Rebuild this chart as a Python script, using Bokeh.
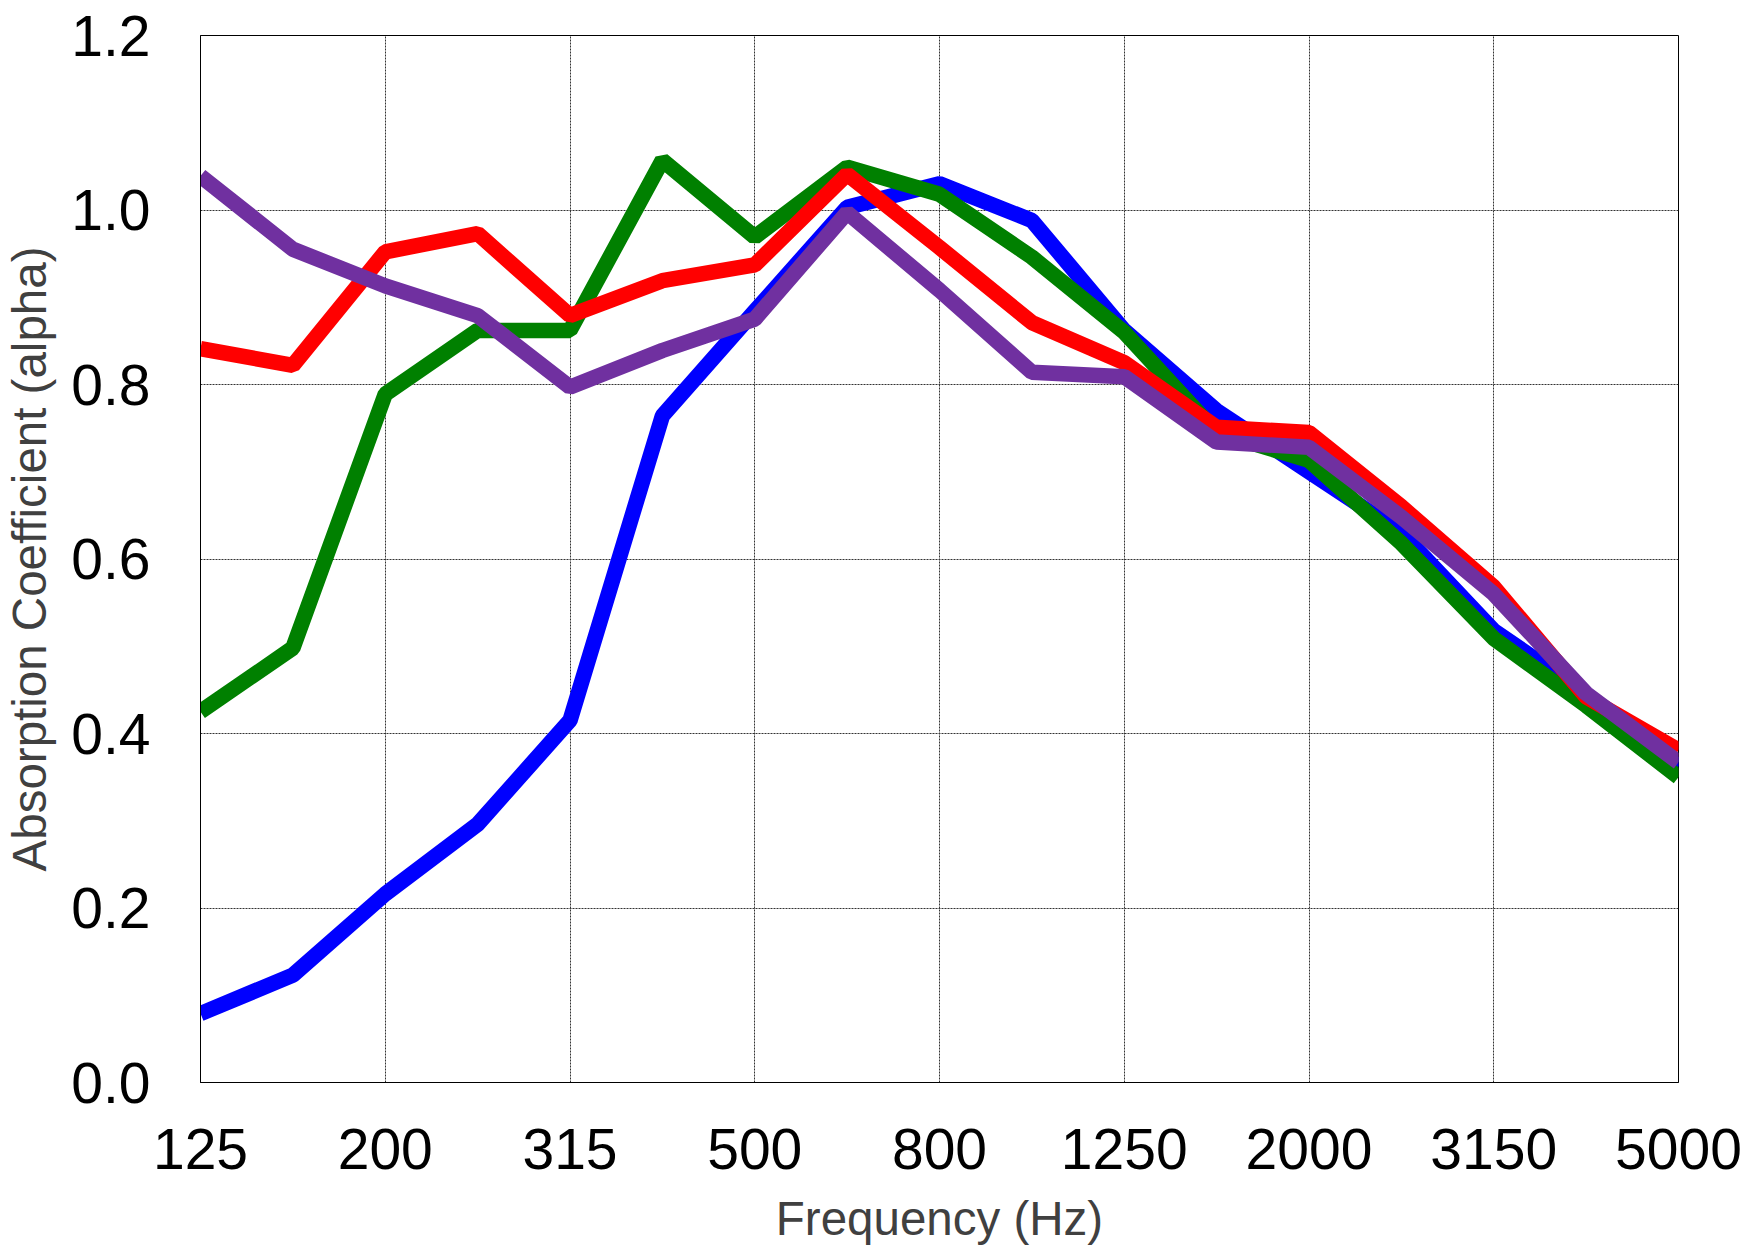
from bokeh.plotting import figure
from bokeh.models import FixedTicker, Range1d, PrintfTickFormatter
from bokeh.embed import file_html
from bokeh.resources import INLINE

freqs = ["125", "160", "200", "250", "315", "400", "500", "630", "800",
         "1000", "1250", "1600", "2000", "2500", "3150", "4000", "5000"]
tick_labels = ["125", "200", "315", "500", "800", "1250", "2000", "3150", "5000"]

blue = [0.079, 0.123, 0.216, 0.296, 0.415, 0.764, 0.884, 1.003, 1.030, 0.988,
        0.862, 0.770, 0.700, 0.630, 0.518, 0.445, 0.362]
green = [0.425, 0.498, 0.789, 0.862, 0.862, 1.057, 0.969, 1.049, 1.018, 0.946,
         0.860, 0.745, 0.713, 0.618, 0.509, 0.432, 0.350]
red = [0.841, 0.822, 0.952, 0.973, 0.879, 0.919, 0.937, 1.041, 0.957, 0.871,
       0.825, 0.751, 0.745, 0.660, 0.568, 0.442, 0.381]
purple = [1.039, 0.955, 0.913, 0.879, 0.797, 0.839, 0.875, 0.997, 0.908, 0.814,
          0.809, 0.734, 0.728, 0.648, 0.560, 0.446, 0.367]

series = [(blue, "#0000FF"), (green, "#008000"), (red, "#FF0000"), (purple, "#7030A0")]

x = list(range(len(freqs)))

p = figure(output_backend="svg", toolbar_location=None,
           frame_width=1478, frame_height=1047,
           min_border_left=190, min_border_top=35, min_border_right=66, min_border_bottom=150,
           x_range=Range1d(0, len(freqs) - 1), y_range=Range1d(0, 1.2))

for vals, col in series:
    p.line(x, vals, line_color=col, line_width=15.5)

font = "Liberation Sans"
tick_pos = [freqs.index(t) for t in tick_labels]
p.xaxis.ticker = FixedTicker(ticks=tick_pos)
p.xaxis.major_label_overrides = {i: t for i, t in zip(tick_pos, tick_labels)}
p.yaxis.ticker = FixedTicker(ticks=[0, 0.2, 0.4, 0.6, 0.8, 1.0, 1.2])
p.yaxis.formatter = PrintfTickFormatter(format="%.1f")

for ax in (p.xaxis, p.yaxis):
    ax.major_tick_in = 0
    ax.major_tick_out = 0
    ax.minor_tick_in = 0
    ax.minor_tick_out = 0
    ax.axis_line_color = "black"
    ax.major_label_text_font = font
    ax.major_label_text_font_size = "57px"
    ax.major_label_text_color = "black"
    ax.axis_label_text_font = font
    ax.axis_label_text_font_size = "47.5px"
    ax.axis_label_text_font_style = "normal"
    ax.axis_label_text_color = "#404040"

p.xaxis.axis_label = "Frequency (Hz)"
p.yaxis.axis_label = "Absorption Coefficient (alpha)"
p.xaxis.major_label_standoff = 46
p.yaxis.major_label_standoff = 50
p.xaxis.axis_label_standoff = 20
p.yaxis.axis_label_standoff = 12

for g in (p.xgrid, p.ygrid):
    g.grid_line_color = "#333333"
    g.grid_line_dash = "2 1"
    g.grid_line_width = 1

p.outline_line_color = "black"
p.outline_line_width = 1

open("out.html", "w").write(file_html(p, INLINE))
